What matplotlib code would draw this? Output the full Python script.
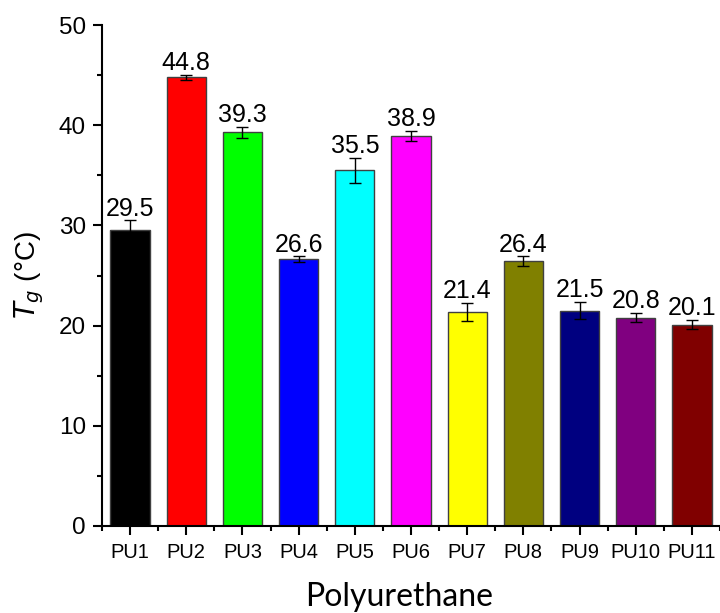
import matplotlib
matplotlib.use("Agg")
import matplotlib.pyplot as plt
from matplotlib.ticker import MultipleLocator

categories = ["PU1", "PU2", "PU3", "PU4", "PU5", "PU6", "PU7", "PU8", "PU9", "PU10", "PU11"]
values = [29.5, 44.8, 39.3, 26.6, 35.5, 38.9, 21.4, 26.4, 21.5, 20.8, 20.1]
errors = [1.0, 0.25, 0.55, 0.3, 1.25, 0.5, 0.9, 0.5, 0.85, 0.45, 0.45]
colors = ["#000000", "#ff0000", "#00ff00", "#0000ff", "#00ffff", "#ff00ff",
          "#ffff00", "#808000", "#000080", "#800080", "#800000"]

fig = plt.figure(figsize=(7.2, 6.13), dpi=100)
ax = fig.add_axes([102/720, (613-526)/613, (720-102)/720, (526-25)/613])

x = list(range(1, len(categories) + 1))
ax.bar(x, values, width=0.7, color=colors, edgecolor="#404040", linewidth=1.0, zorder=2)
ax.errorbar(x, values, yerr=errors, fmt="none", ecolor="black", elinewidth=1.0,
            capsize=4, capthick=1.0, zorder=3)

for xi, v, e in zip(x, values, errors):
    ax.annotate(f"{v:.1f}", (xi, v + e), xytext=(0, 3.5), textcoords="offset points",
                ha="center", va="baseline", fontsize=18, family="Liberation Sans")

ax.set_xlim(0.5, 11.5)
ax.set_ylim(0, 50)
ax.set_xticks(x)
ax.set_xticklabels(categories, family="Liberation Sans", fontsize=14.5)
ax.xaxis.set_minor_locator(MultipleLocator(1, offset=0.5))
ax.yaxis.set_major_locator(MultipleLocator(10))
ax.yaxis.set_minor_locator(MultipleLocator(5))
for lab in ax.get_yticklabels():
    lab.set_family("Liberation Sans")
    lab.set_fontsize(17.5)

ax.tick_params(axis="x", which="major", direction="out", length=6.5, width=1.5, pad=6)
ax.tick_params(axis="y", which="major", direction="out", length=6.5, width=1.5, pad=5)
ax.tick_params(axis="both", which="minor", direction="out", length=3.5, width=1.5)

for s in ["top", "right"]:
    ax.spines[s].set_visible(False)
for s in ["left", "bottom"]:
    ax.spines[s].set_linewidth(1.5)

ax.set_ylabel(r"$\mathit{T}_{\mathit{g}}$ (°C)", fontsize=20, family="Liberation Sans")
ax.yaxis.label.set_va("center")
ax.yaxis.set_label_coords(-0.117, 0.5)
ax.set_xlabel("Polyurethane", fontsize=23, family="Lato")
ax.xaxis.label.set_va("baseline")
ax.xaxis.set_label_coords(0.48, -0.16)

fig.savefig("out.png", dpi=100)
